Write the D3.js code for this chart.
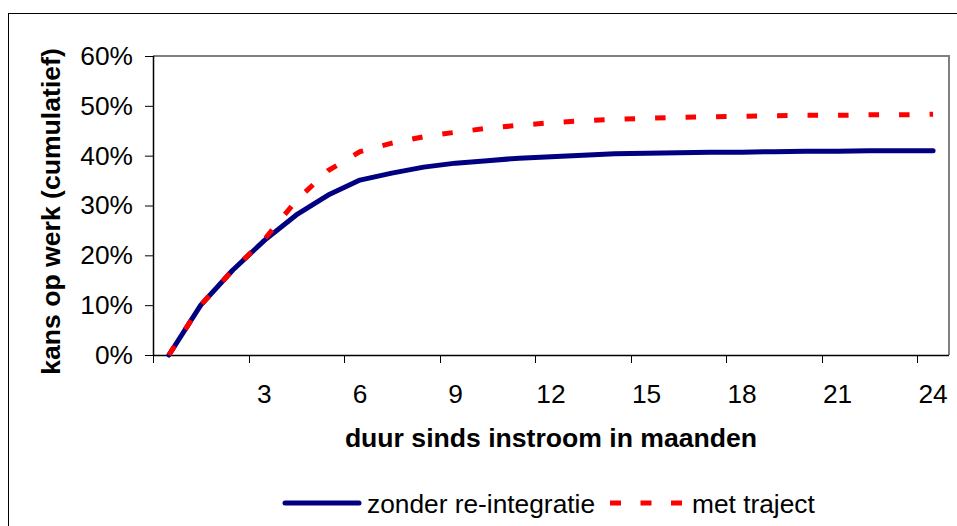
<!DOCTYPE html>
<html>
<head>
<meta charset="utf-8">
<script src="https://cdn.jsdelivr.net/npm/d3@7"></script>
<style>
  body { margin: 0; background: #fff; }
  svg { display: block; font-family: "Liberation Sans", Arial, sans-serif; }
</style>
</head>
<body>
<svg id="chart" width="957" height="526"></svg>
<script>
// months since inflow (categories)
const months = d3.range(0, 25);
const monthLabels = [3, 6, 9, 12, 15, 18, 21, 24];
const yTicks = [0, 0.1, 0.2, 0.3, 0.4, 0.5, 0.6];

// cumulative chance of work
const zonder = [0, 0.10, 0.17, 0.23, 0.281, 0.321, 0.351, 0.365, 0.377, 0.385, 0.390, 0.395,
    0.398, 0.401, 0.404, 0.405, 0.406, 0.407, 0.407, 0.408, 0.409, 0.409, 0.410, 0.410, 0.410];
const traject = [0, 0.10, 0.17, 0.232, 0.31, 0.37, 0.408, 0.425, 0.438, 0.447, 0.455, 0.461,
    0.466, 0.470, 0.473, 0.475, 0.477, 0.478, 0.479, 0.480, 0.481, 0.481, 0.482, 0.482, 0.483];

const seriesNames = ["zonder re-integratie", "met traject"];

const svg = d3.select("#chart");
const plot = { left: 153, right: 949, top: 56, bottom: 355 };
const fontSize = 26.3;

// outer frame
svg.append("rect")
    .attr("x", 8.5).attr("y", 13.5)
    .attr("width", 960).attr("height", 540)
    .attr("fill", "none").attr("stroke", "#000").attr("stroke-width", 1);

const x = d3.scaleBand().domain(months).range([plot.left, plot.right]).padding(0);
const y = d3.scaleLinear().domain([0, 0.6]).range([plot.bottom, plot.top]);
const cx = (m) => x(m) + x.bandwidth() / 2;

// plot area border (grey top/right)
svg.append("path")
    .attr("d", `M${plot.left},${plot.top}H${plot.right}V${plot.bottom}`)
    .attr("fill", "none").attr("stroke", "#808080").attr("stroke-width", 2);

// y axis
const yAxis = svg.append("g")
    .attr("transform", `translate(${plot.left},0)`)
    .call(d3.axisLeft(y).tickValues(yTicks).tickSize(8).tickPadding(12)
        .tickFormat(d3.format(".0%")));
yAxis.select(".domain").attr("stroke", "#000").attr("stroke-width", 1.5)
    .attr("d", `M0.5,${plot.top}V${plot.bottom}`);
yAxis.selectAll(".tick line").attr("stroke", "#000");
yAxis.selectAll("text").attr("font-size", fontSize).attr("fill", "#000");

// x axis: tick marks on category boundaries every 3 months, labels centred
const xAxis = svg.append("g").attr("transform", `translate(0,${plot.bottom})`);
xAxis.append("line")
    .attr("x1", plot.left).attr("x2", plot.right)
    .attr("y1", 0.5).attr("y2", 0.5)
    .attr("stroke", "#000").attr("stroke-width", 1.5);
xAxis.selectAll(".xtick")
    .data(months.filter((m) => m % 3 === 0))
    .enter().append("line")
    .attr("class", "xtick")
    .attr("x1", (d) => Math.round(x(d)) + 0.5).attr("x2", (d) => Math.round(x(d)) + 0.5)
    .attr("y1", 0).attr("y2", 8)
    .attr("stroke", "#000");
xAxis.selectAll(".xlabel")
    .data(monthLabels)
    .enter().append("text")
    .attr("class", "xlabel")
    .attr("x", (d) => cx(d))
    .attr("y", 48)
    .attr("text-anchor", "middle")
    .attr("font-size", fontSize)
    .text((d) => d);

// axis titles
svg.append("text")
    .attr("x", (plot.left + plot.right) / 2)
    .attr("y", 447)
    .attr("text-anchor", "middle")
    .attr("font-size", 26.6).attr("font-weight", "bold")
    .text("duur sinds instroom in maanden");

svg.append("text")
    .attr("transform", `translate(60,${(plot.top + plot.bottom) / 2 + 6}) rotate(-90)`)
    .attr("text-anchor", "middle")
    .attr("font-size", 26.6).attr("font-weight", "bold")
    .text("kans op werk (cumulatief)");

// lines
const line = d3.line().x((d, i) => cx(months[i])).y((d) => y(d));

svg.append("path")
    .datum(zonder)
    .attr("d", line)
    .attr("fill", "none")
    .attr("stroke", "#000080")
    .attr("stroke-width", 5)
    .attr("stroke-linejoin", "round")
    .attr("stroke-linecap", "round");

svg.append("path")
    .datum(traject)
    .attr("d", line)
    .attr("fill", "none")
    .attr("stroke", "#ff0000")
    .attr("stroke-width", 5)
    .attr("stroke-dasharray", "10.5,20");

// legend
const legend = svg.append("g").attr("transform", "translate(0,503)");
legend.append("line")
    .attr("x1", 285).attr("x2", 359).attr("y1", 0).attr("y2", 0)
    .attr("stroke", "#000080").attr("stroke-width", 5).attr("stroke-linecap", "round");
legend.append("text")
    .attr("x", 367).attr("y", 10).attr("font-size", fontSize)
    .text(seriesNames[0]);
legend.append("line")
    .attr("x1", 610).attr("x2", 683).attr("y1", 0).attr("y2", 0)
    .attr("stroke", "#ff0000").attr("stroke-width", 5)
    .attr("stroke-dasharray", "11,19.5");
legend.append("text")
    .attr("x", 692).attr("y", 10).attr("font-size", fontSize)
    .text(seriesNames[1]);
</script>
</body>
</html>
